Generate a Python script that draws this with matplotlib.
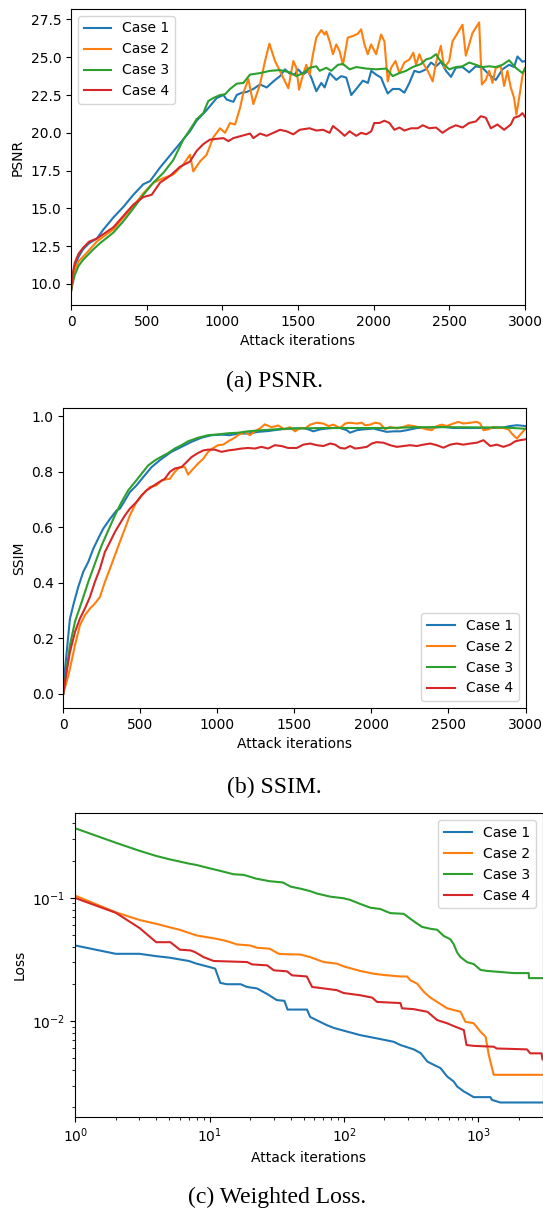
import numpy as np
import matplotlib
matplotlib.use("Agg")
import matplotlib.pyplot as plt

labels = ["Case 1", "Case 2", "Case 3", "Case 4"]

# ---- (a) PSNR ----
psnr_it_1 = [0, 10, 25, 50, 80, 120, 170, 214, 280, 346, 412, 478, 522, 588, 654, 720, 786, 830, 896, 963,
             1007, 1029, 1073, 1095, 1128, 1161, 1205, 1249, 1293, 1337, 1381, 1414, 1447, 1478, 1500, 1533,
             1566, 1588, 1621, 1654, 1676, 1709, 1753, 1786, 1819, 1852, 1885, 1929, 1962, 1984, 2016, 2049,
             2071, 2093, 2126, 2170, 2203, 2236, 2269, 2302, 2346, 2379, 2412, 2445, 2478, 2511, 2543, 2587,
             2631, 2675, 2719, 2763, 2807, 2851, 2895, 2928, 2950, 2983, 3000]
psnr_1 = [9.5, 10.5, 11.2, 11.8, 12.3, 12.7, 13.0, 13.6, 14.4, 15.1, 15.9, 16.6, 16.8, 17.7, 18.5, 19.3, 20.1,
          20.8, 21.5, 22.3, 22.5, 22.2, 22.05, 22.5, 22.65, 22.7, 22.9, 23.2, 23.0, 23.4, 23.75, 24.2, 23.9,
          23.85, 24.2, 23.85, 24.1, 23.65, 22.75, 23.3, 23.0, 23.95, 23.5, 23.75, 23.65, 22.5, 22.9, 23.45,
          23.3, 24.1, 23.85, 23.65, 23.1, 22.6, 22.9, 22.9, 22.65, 23.3, 24.1, 24.0, 24.2, 24.65, 24.4, 24.7,
          24.1, 23.7, 24.3, 24.35, 24.0, 24.4, 24.3, 23.85, 23.5, 24.2, 24.5, 24.35, 25.05, 24.7, 24.75]

psnr_it_2 = [0, 10, 25, 50, 103, 170, 236, 280, 346, 412, 478, 544, 610, 676, 742, 786, 808, 852, 896, 940,
             985, 1018, 1051, 1084, 1117, 1139, 1172, 1205, 1249, 1282, 1311, 1348, 1392, 1436, 1469, 1489,
             1507, 1533, 1555, 1577, 1599, 1621, 1654, 1676, 1687, 1709, 1731, 1753, 1775, 1797, 1829, 1862,
             1895, 1917, 1939, 1961, 1983, 2016, 2049, 2071, 2093, 2115, 2144, 2170, 2203, 2236, 2262, 2280,
             2302, 2324, 2357, 2390, 2412, 2444, 2466, 2499, 2521, 2554, 2587, 2609, 2631, 2653, 2675, 2697,
             2715, 2741, 2763, 2785, 2807, 2840, 2862, 2884, 2906, 2928, 2943, 2965, 2983, 3000]
psnr_2 = [9.5, 10.2, 10.9, 11.5, 12.05, 12.8, 13.3, 13.6, 14.4, 15.15, 16.0, 16.7, 17.0, 17.25, 17.9, 18.55,
          17.45, 18.1, 18.55, 19.7, 20.3, 20.0, 20.65, 20.55, 21.65, 22.65, 23.55, 21.9, 23.2, 24.75, 25.9,
          24.75, 23.85, 22.95, 24.75, 24.3, 22.85, 23.85, 24.5, 23.85, 25.2, 26.3, 26.8, 26.5, 26.7, 26.05,
          25.2, 25.85, 25.4, 24.5, 26.3, 26.4, 26.55, 26.85, 25.85, 25.2, 25.85, 25.2, 26.5, 26.05, 23.4,
          24.3, 24.75, 23.95, 24.65, 24.85, 25.3, 24.5, 25.2, 24.65, 24.1, 23.4, 24.65, 25.75, 24.3, 24.75,
          26.05, 26.6, 27.15, 25.1, 25.85, 26.6, 26.95, 27.3, 23.2, 23.5, 24.1, 23.3, 24.3, 24.4, 23.1, 24.1,
          23.0, 22.3, 21.2, 22.55, 23.75, 24.3]

psnr_it_3 = [0, 10, 25, 50, 80, 148, 192, 236, 280, 346, 412, 478, 544, 610, 676, 742, 786, 830, 874, 907,
             940, 985, 1018, 1051, 1095, 1139, 1183, 1249, 1315, 1381, 1447, 1489, 1533, 1577, 1621, 1643,
             1687, 1720, 1764, 1797, 1841, 1885, 1951, 2016, 2082, 2126, 2170, 2214, 2258, 2313, 2346, 2379,
             2412, 2434, 2467, 2499, 2543, 2587, 2631, 2675, 2719, 2763, 2807, 2851, 2895, 2939, 2983, 3000]
psnr_3 = [9.5, 10.0, 10.6, 11.2, 11.6, 12.3, 12.7, 13.05, 13.4, 14.15, 15.0, 15.9, 16.7, 17.35, 18.2, 19.55,
          20.2, 20.9, 21.3, 22.1, 22.3, 22.5, 22.55, 22.9, 23.25, 23.3, 23.85, 23.95, 24.1, 24.15, 24.0, 23.75,
          23.95, 24.3, 24.4, 24.1, 24.3, 24.1, 24.5, 24.55, 24.2, 24.35, 24.25, 24.2, 24.25, 23.75, 23.95,
          24.1, 24.35, 24.55, 24.85, 24.95, 25.2, 24.85, 24.5, 24.2, 24.35, 24.4, 24.65, 24.5, 24.35, 24.4,
          24.35, 24.5, 24.8, 24.3, 23.95, 24.25]

psnr_it_4 = [0, 10, 25, 50, 80, 120, 170, 214, 280, 346, 412, 478, 533, 588, 654, 720, 786, 830, 874, 918,
             963, 1007, 1040, 1073, 1128, 1183, 1205, 1249, 1293, 1337, 1381, 1425, 1469, 1511, 1577, 1621,
             1665, 1709, 1731, 1775, 1808, 1841, 1885, 1918, 1951, 1984, 2004, 2038, 2071, 2104, 2137, 2170,
             2203, 2247, 2291, 2324, 2368, 2412, 2455, 2499, 2543, 2587, 2631, 2675, 2708, 2741, 2774, 2818,
             2862, 2906, 2928, 2961, 2983, 3000]
psnr_4 = [9.5, 10.6, 11.4, 12.0, 12.4, 12.8, 13.0, 13.3, 13.75, 14.5, 15.25, 15.75, 15.9, 16.7, 17.15, 17.75,
          18.1, 18.8, 19.25, 19.55, 19.6, 19.65, 19.45, 19.65, 19.8, 19.95, 19.65, 19.95, 19.8, 20.0, 20.2,
          20.1, 19.9, 20.2, 20.3, 20.15, 20.2, 20.0, 20.45, 20.1, 19.8, 20.1, 19.8, 20.0, 19.9, 20.1, 20.65,
          20.65, 20.8, 20.65, 20.2, 20.35, 20.15, 20.3, 20.3, 20.5, 20.3, 20.35, 20.0, 20.3, 20.5, 20.35,
          20.65, 20.75, 21.1, 21.0, 20.3, 20.55, 20.2, 20.55, 21.0, 21.1, 21.3, 21.05]

# ---- (b) SSIM ----
ssim_it_1 = [0, 10, 22, 43, 65, 97, 130, 162, 195, 227, 259, 303, 346, 367, 400, 432, 475, 519, 573, 638, 702,
             767, 832, 897, 962, 1027, 1081, 1135, 1200, 1264, 1329, 1394, 1459, 1515, 1558, 1591, 1623, 1667,
             1710, 1753, 1797, 1840, 1861, 1905, 1948, 2013, 2056, 2100, 2143, 2186, 2229, 2294, 2338, 2403,
             2468, 2532, 2597, 2684, 2771, 2857, 2900, 2944, 3000]
ssim_1 = [0.0, 0.08, 0.15, 0.27, 0.32, 0.385, 0.44, 0.475, 0.523, 0.56, 0.595, 0.63, 0.661, 0.667, 0.697,
          0.727, 0.751, 0.781, 0.817, 0.847, 0.872, 0.89, 0.908, 0.923, 0.932, 0.934, 0.932, 0.938, 0.938,
          0.944, 0.947, 0.952, 0.956, 0.956, 0.958, 0.953, 0.946, 0.953, 0.956, 0.958, 0.958, 0.95, 0.941,
          0.95, 0.953, 0.956, 0.95, 0.944, 0.946, 0.946, 0.95, 0.958, 0.958, 0.96, 0.962, 0.958, 0.958, 0.958,
          0.958, 0.96, 0.965, 0.968, 0.965]

ssim_it_2 = [0, 10, 22, 43, 76, 108, 140, 173, 205, 238, 270, 303, 335, 367, 400, 432, 475, 519, 562, 605, 638,
             670, 692, 724, 757, 789, 810, 843, 875, 908, 940, 973, 1005, 1038, 1070, 1103, 1135, 1178, 1211,
             1243, 1275, 1308, 1351, 1394, 1437, 1470, 1504, 1537, 1569, 1602, 1645, 1688, 1721, 1753, 1797,
             1829, 1861, 1905, 1937, 1959, 1991, 2024, 2056, 2089, 2121, 2165, 2208, 2240, 2273, 2316, 2359,
             2392, 2424, 2457, 2489, 2532, 2565, 2597, 2641, 2684, 2706, 2727, 2760, 2792, 2825, 2857, 2890,
             2911, 2944, 2972, 3000]
ssim_2 = [0.0, 0.02, 0.043, 0.09, 0.175, 0.247, 0.283, 0.307, 0.325, 0.349, 0.403, 0.451, 0.499, 0.547, 0.595,
          0.643, 0.691, 0.721, 0.745, 0.751, 0.769, 0.773, 0.775, 0.8, 0.817, 0.817, 0.79, 0.811, 0.83, 0.847,
          0.872, 0.886, 0.896, 0.898, 0.91, 0.92, 0.932, 0.944, 0.932, 0.946, 0.956, 0.971, 0.961, 0.967,
          0.953, 0.961, 0.946, 0.958, 0.956, 0.97, 0.977, 0.974, 0.965, 0.97, 0.958, 0.974, 0.977, 0.974,
          0.977, 0.968, 0.97, 0.977, 0.974, 0.953, 0.962, 0.956, 0.962, 0.968, 0.965, 0.96, 0.953, 0.95,
          0.965, 0.97, 0.965, 0.974, 0.98, 0.974, 0.977, 0.98, 0.974, 0.95, 0.953, 0.962, 0.958, 0.958, 0.953,
          0.938, 0.92, 0.938, 0.956]

ssim_it_3 = [0, 10, 22, 43, 76, 119, 162, 205, 249, 292, 335, 378, 421, 465, 508, 551, 594, 638, 681, 724, 767,
             810, 875, 940, 1005, 1070, 1135, 1200, 1286, 1373, 1472, 1700, 1900, 2100, 2300, 2500, 2700, 2850,
             2950, 3000]
ssim_3 = [0.0, 0.04, 0.09, 0.175, 0.26, 0.33, 0.403, 0.469, 0.535, 0.589, 0.643, 0.691, 0.733, 0.763, 0.793,
          0.823, 0.841, 0.855, 0.868, 0.884, 0.896, 0.91, 0.923, 0.932, 0.935, 0.939, 0.941, 0.946, 0.95,
          0.953, 0.956, 0.958, 0.958, 0.958, 0.961, 0.961, 0.96, 0.96, 0.957, 0.955]

ssim_it_4 = [0, 10, 22, 43, 76, 108, 140, 173, 205, 238, 270, 303, 335, 367, 400, 432, 475, 508, 540, 573, 616,
             659, 692, 724, 767, 800, 832, 875, 908, 940, 983, 1027, 1070, 1113, 1157, 1200, 1243, 1286, 1329,
             1373, 1416, 1459, 1515, 1558, 1602, 1645, 1688, 1732, 1764, 1797, 1829, 1861, 1894, 1926, 1970,
             2002, 2034, 2078, 2121, 2165, 2208, 2251, 2294, 2338, 2381, 2424, 2468, 2511, 2554, 2597, 2641,
             2684, 2727, 2771, 2814, 2857, 2900, 2933, 2965, 3000]
ssim_4 = [0.0, 0.04, 0.08, 0.15, 0.223, 0.271, 0.307, 0.349, 0.403, 0.451, 0.511, 0.547, 0.583, 0.613, 0.643,
          0.667, 0.691, 0.715, 0.733, 0.745, 0.761, 0.775, 0.8, 0.812, 0.817, 0.835, 0.853, 0.868, 0.877,
          0.88, 0.88, 0.872, 0.877, 0.88, 0.884, 0.886, 0.884, 0.89, 0.884, 0.896, 0.893, 0.886, 0.886, 0.898,
          0.902, 0.896, 0.893, 0.902, 0.898, 0.886, 0.884, 0.893, 0.884, 0.886, 0.89, 0.902, 0.907, 0.905,
          0.896, 0.89, 0.893, 0.896, 0.893, 0.898, 0.902, 0.896, 0.887, 0.898, 0.902, 0.898, 0.902, 0.905,
          0.914, 0.893, 0.898, 0.89, 0.898, 0.91, 0.914, 0.917]

# ---- (c) weighted loss (running minimum, log-log) ----
loss_it_1 = [1, 2, 3, 4, 5, 7, 8, 10, 11, 12, 13.4, 17, 19, 22.5, 27, 31.6, 36, 38, 53, 56, 74, 84, 111, 132,
             176, 234, 263, 330, 372, 417, 466, 522, 585, 655, 695, 779, 825, 923, 1230, 1260, 1456, 3000]
loss_1 = [0.041, 0.0351, 0.0351, 0.0336, 0.0327, 0.0307, 0.0292, 0.0274, 0.0266, 0.0204, 0.0199, 0.0199,
          0.0189, 0.0184, 0.0165, 0.0148, 0.0146, 0.0124, 0.0124, 0.0108, 0.0093, 0.0088, 0.0081, 0.0077,
          0.00724, 0.0068, 0.0064, 0.0059, 0.0055, 0.0047, 0.00442, 0.00416, 0.00356, 0.00324, 0.00295,
          0.00269, 0.0026, 0.00242, 0.00242, 0.0023, 0.00219, 0.00219]

loss_it_2 = [1, 2, 3, 4, 5, 6, 8, 9.5, 11.3, 13.4, 16, 20, 22.5, 28, 32.6, 40, 47, 56, 70.6, 88.7, 99, 132, 166,
             209, 263, 295, 312, 350, 392, 439, 493, 585, 736, 800, 923, 1037, 1131, 1195, 1300, 3000]
loss_2 = [0.1038, 0.0762, 0.066, 0.0614, 0.0577, 0.0549, 0.0494, 0.0479, 0.0464, 0.0445, 0.0418, 0.041, 0.0393,
          0.0386, 0.0351, 0.0347, 0.0347, 0.033, 0.0301, 0.0292, 0.0278, 0.0255, 0.0242, 0.0235, 0.023, 0.023,
          0.0214, 0.0201, 0.0173, 0.0155, 0.0143, 0.0127, 0.0119, 0.00988, 0.0096, 0.0082, 0.00748, 0.00532,
          0.00367, 0.00367]

loss_it_3 = [1, 2, 3, 4, 5, 7, 8, 10, 12, 15, 18, 22, 28, 35, 40, 48, 56, 63, 79, 99, 111, 132, 157, 186, 221,
             278, 303, 340, 381, 439, 493, 552, 619, 655, 695, 736, 825, 923, 1037, 1163, 1456, 1832, 2370,
             2380, 3000]
loss_3 = [0.365, 0.279, 0.24, 0.218, 0.205, 0.189, 0.184, 0.173, 0.165, 0.155, 0.153, 0.143, 0.136, 0.133,
          0.123, 0.118, 0.113, 0.108, 0.102, 0.099, 0.096, 0.089, 0.083, 0.081, 0.075, 0.074, 0.069, 0.063,
          0.058, 0.056, 0.055, 0.049, 0.046, 0.042, 0.036, 0.033, 0.030, 0.029, 0.026, 0.0255, 0.025, 0.0245,
          0.0245, 0.0223, 0.0223]

loss_it_4 = [1, 2, 3, 4, 5.1, 6, 7.2, 7.8, 9, 10.7, 19, 20.7, 26.8, 30, 37.7, 41, 52.8, 57.9, 70.6, 88.7, 99,
             132, 162, 176, 263, 270, 330, 417, 493, 585, 655, 779, 816, 923, 1300, 1370, 2300, 2430, 2950, 3000]
loss_4 = [0.0994, 0.0755, 0.0569, 0.0436, 0.0436, 0.0379, 0.0374, 0.0362, 0.033, 0.0307, 0.0301, 0.0288, 0.0283,
          0.0258, 0.0253, 0.0235, 0.023, 0.0189, 0.0184, 0.0178, 0.0169, 0.0162, 0.0155, 0.0143, 0.014, 0.0127,
          0.0125, 0.0119, 0.0102, 0.0096, 0.00912, 0.00846, 0.0064, 0.0063, 0.0062, 0.006, 0.0059, 0.00548,
          0.00548, 0.0049]

psnr_its = [psnr_it_1, psnr_it_2, psnr_it_3, psnr_it_4]
psnr_vals = [psnr_1, psnr_2, psnr_3, psnr_4]
ssim_its = [ssim_it_1, ssim_it_2, ssim_it_3, ssim_it_4]
ssim_vals = [ssim_1, ssim_2, ssim_3, ssim_4]
loss_its = [loss_it_1, loss_it_2, loss_it_3, loss_it_4]
loss_vals = [loss_1, loss_2, loss_3, loss_4]

W, H = 543, 1211
fig = plt.figure(figsize=(W / 100, H / 100), dpi=100)


def box(left, top, right, bottom):
    # pixel box -> figure fraction
    return [left / W, 1 - bottom / H, (right - left) / W, (bottom - top) / H]


cap_font = ["Liberation Serif", "DejaVu Serif"]

# (a)
ax = fig.add_axes(box(71, 9, 525, 305))
for it, v, lab in zip(psnr_its, psnr_vals, labels):
    ax.plot(it, v, label=lab)
ax.set_xlim(0, 3000)
ax.set_ylim(8.61, 28.19)
ax.set_yticks([10.0, 12.5, 15.0, 17.5, 20.0, 22.5, 25.0, 27.5])
ax.set_xlabel("Attack iterations")
ax.set_ylabel("PSNR")
ax.legend(loc="upper left")
fig.text(274 / W, 1 - 381 / H, "(a) PSNR.", ha="center", va="center", family=cap_font, fontsize=17)

# (b)
ax = fig.add_axes(box(63.3, 408.3, 525.5, 708))
for it, v, lab in zip(ssim_its, ssim_vals, labels):
    ax.plot(it, v, label=lab)
ax.set_xlim(0, 3000)
ax.set_ylim(-0.0515, 1.029)
ax.set_xlabel("Attack iterations")
ax.set_ylabel("SSIM")
ax.legend(loc="lower right")
fig.text(274 / W, 1 - 787 / H, "(b) SSIM.", ha="center", va="center", family=cap_font, fontsize=17)

# (c)
ax = fig.add_axes(box(75.3, 813.3, 542.5, 1116.7))
for it, v, lab in zip(loss_its, loss_vals, labels):
    ax.plot(it, v, label=lab)
ax.set_xscale("log")
ax.set_yscale("log")
ax.set_xlim(1, 3000)
ax.set_ylim(0.00168, 0.483)
ax.set_xlabel("Attack iterations")
ax.set_ylabel("Loss")
ax.legend(loc="upper right")
fig.text(277 / W, 1 - 1197 / H, "(c) Weighted Loss.", ha="center", va="center", family=cap_font, fontsize=17)

fig.savefig("out.png", dpi=100)
